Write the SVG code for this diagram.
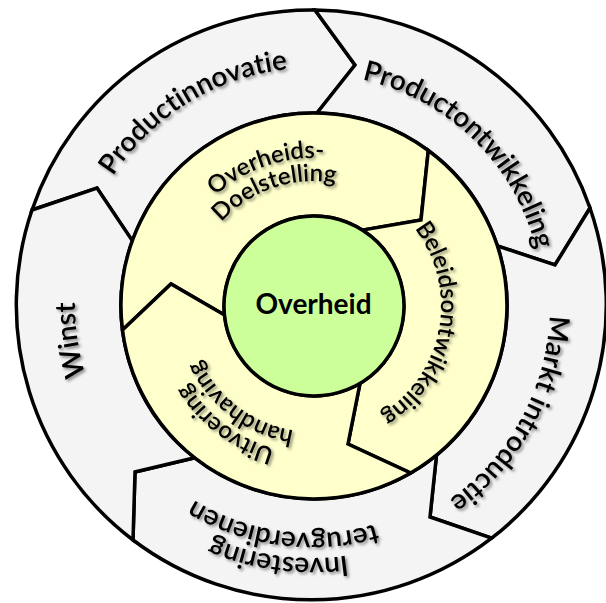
<svg xmlns="http://www.w3.org/2000/svg" width="606" height="603" viewBox="0 0 606 603">
<style>
.seg{fill:#f4f4f4;stroke:#000;stroke-width:3.5;stroke-linejoin:miter}
.inn{fill:#ffffcc;stroke:#000;stroke-width:3.5;stroke-linejoin:miter}
.core{fill:#ccff99;stroke:#000;stroke-width:3.5}
.t{font-family:Lato,"Liberation Sans",sans-serif;font-weight:600;fill:#000;filter:url(#sh);font-variant-ligatures:none;font-feature-settings:"liga" 0,"dlig" 0}
.o{font-size:28px}
.i{font-size:24px}
.c{font-family:Lato,"Liberation Sans",sans-serif;font-weight:bold;font-size:28px;fill:#000}
</style>
<defs>
<filter id="sh" x="-20%" y="-20%" width="140%" height="140%">
<feDropShadow dx="2" dy="2" stdDeviation="1.5" flood-color="#000" flood-opacity="0.45"/>
</filter>
<path id="p1" d="M 75.1 311.2 A 237 237 0 0 1 425.1 96.7"/>
<path id="p2" d="M 249.5 82.6 A 231 231 0 0 1 535.8 362.1"/>
<path id="p3" d="M 515.4 181.4 A 238 238 0 0 1 317.4 542.9"/>
<path id="p4" d="M 512.4 459.4 A 253 253 0 0 1 78.1 401.4"/>
<path id="p5" d="M 492.9 443.8 A 228 228 0 0 1 101.4 392.3"/>
<path id="p6" d="M 224.4 525.2 A 237 237 0 0 1 165.1 119.0"/>
<path id="p7" d="M 168.7 277.8 A 148 148 0 0 1 411.1 194.3"/>
<path id="p8" d="M 191.3 282.1 A 125 125 0 0 1 396.0 211.7"/>
<path id="p9" d="M 396.3 209.3 A 127 127 0 0 1 356.6 425.6"/>
<path id="p10" d="M 371.8 442.2 A 148 148 0 0 1 167.1 288.0"/>
<path id="p11" d="M 363.2 422.0 A 126 126 0 0 1 188.9 290.6"/>
</defs>
<g id="productinnovatie">
<path class="seg" d="M 32 210 A 295 295 0 0 1 315 10 L 355 65 L 317 113 A 193 193 0 0 0 132.4 240.9 L 97 188 Z"/>
<text class="t o" text-anchor="middle"><textPath href="#p1" startOffset="50%">Productinnovatie</textPath></text>
</g>
<g id="productontwikkeling">
<path class="seg" d="M 315 10 A 295 295 0 0 1 590 208 L 555 265 L 497.4 245.9 A 193 193 0 0 0 317 113 L 355 65 Z"/>
<text class="t o" text-anchor="middle"><textPath href="#p2" startOffset="50%">Productontwikkeling</textPath></text>
</g>
<g id="markt-introductie">
<path class="seg" d="M 590 208 A 295 295 0 0 1 491.6 538.2 L 430 517 L 436.5 455.1 A 193 193 0 0 0 497.4 245.9 L 555 265 Z"/>
<text class="t o" text-anchor="middle"><textPath href="#p3" startOffset="50%">Markt introductie</textPath></text>
</g>
<g id="investering">
<path class="seg" d="M 491.6 538.2 A 295 295 0 0 1 133 540 L 135 472 L 194.7 457.8 A 193 193 0 0 0 436.5 455.1 L 430 517 Z"/>
<text class="t o" text-anchor="middle"><textPath href="#p4" startOffset="50%">Investering</textPath></text>
<text class="t o" text-anchor="middle"><textPath href="#p5" startOffset="50%">terugverdienen</textPath></text>
</g>
<g id="winst">
<path class="seg" d="M 133 540 A 295 295 0 0 1 32 210 L 97 188 L 132.4 240.9 A 193 193 0 0 0 194.7 457.8 L 135 472 Z"/>
<text class="t o" text-anchor="middle"><textPath href="#p6" startOffset="50%">Winst</textPath></text>
</g>
<g id="doelstelling">
<path class="inn" d="M 122.5 330 A 193 193 0 0 1 428.3 150.5 L 421 220 L 362.3 230.1 A 90 90 0 0 0 224.5 315 L 171 284 Z"/>
<text class="t i" text-anchor="middle"><textPath href="#p7" startOffset="50%">Overheids-</textPath></text>
<text class="t i" text-anchor="middle"><textPath href="#p8" startOffset="50%">Doelstelling</textPath></text>
</g>
<g id="beleidsontwikkeling">
<path class="inn" d="M 428.3 150.5 A 193 193 0 0 1 410.6 473 L 348 444 L 360 383.3 A 90 90 0 0 0 362.3 230.1 L 421 220 Z"/>
<text class="t i" text-anchor="middle"><textPath href="#p9" startOffset="50%">Beleidsontwikkeling</textPath></text>
</g>
<g id="uitvoering">
<path class="inn" d="M 410.6 473 A 193 193 0 0 1 122.5 330 L 171 284 L 224.5 315 A 90 90 0 0 0 360 383.3 L 348 444 Z"/>
<text class="t i" text-anchor="middle"><textPath href="#p10" startOffset="50%">Uitvoering</textPath></text>
<text class="t i" text-anchor="middle"><textPath href="#p11" startOffset="50%">handhaving</textPath></text>
</g>
<g id="overheid">
<circle class="core" cx="314" cy="306" r="90"/>
<text class="c" x="313.5" y="314" text-anchor="middle">Overheid</text>
</g>
<g id="connectors"></g>
</svg>
